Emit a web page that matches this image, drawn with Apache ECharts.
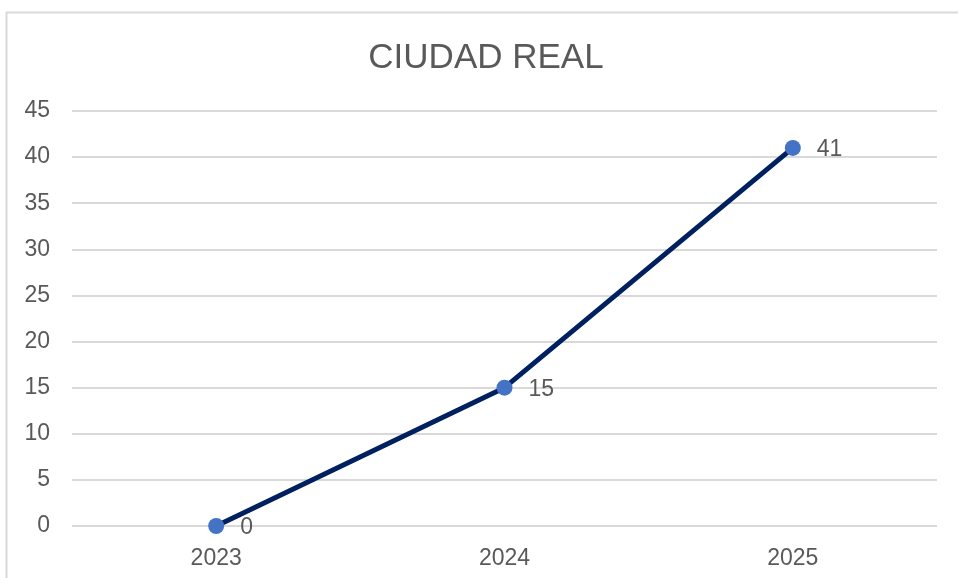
<!DOCTYPE html>
<html>
<head>
<meta charset="utf-8">
<script src="https://cdn.jsdelivr.net/npm/echarts@6/dist/echarts.min.js"></script>
<style>
  html, body { margin: 0; padding: 0; background: #fff; }
  #chart { width: 958px; height: 578px; }
</style>
</head>
<body>
<div id="chart"></div>
<script>
// Data
const years = ['2023', '2024', '2025'];
const values = [0, 15, 41];

const chart = echarts.init(document.getElementById('chart'));

const option = {
  animation: false,
  textStyle: { fontFamily: 'Liberation Sans, Arial, sans-serif' },
  graphic: [
    {
      type: 'rect',
      shape: { x: 6.5, y: 12.5, width: 960, height: 580 },
      style: { fill: 'none', stroke: '#d9d9d9', lineWidth: 2 },
      silent: true
    }
  ],
  title: {
    text: 'CIUDAD REAL',
    left: 481,
    textAlign: 'center',
    top: 36,
    textStyle: { color: '#595959', fontSize: 35, fontWeight: 'normal' }
  },
  grid: { left: 72, right: 21, top: 111, bottom: 52 },
  xAxis: {
    type: 'category',
    data: years,
    boundaryGap: true,
    axisLine: { show: false },
    axisTick: { show: false },
    axisLabel: { color: '#595959', fontSize: 23, margin: 21 }
  },
  yAxis: {
    type: 'value',
    min: 0,
    max: 45,
    interval: 5,
    axisLine: { show: false },
    axisTick: { show: false },
    axisLabel: { color: '#595959', fontSize: 23, margin: 22 },
    splitLine: { lineStyle: { color: '#d9d9d9', width: 2 } }
  },
  series: [
    {
      type: 'line',
      data: values,
      symbol: 'circle',
      symbolSize: 16,
      lineStyle: { color: '#002060', width: 5 },
      itemStyle: { color: '#4472c4' },
      label: {
        show: true,
        position: 'right',
        distance: 16,
        offset: [0, 2],
        color: '#595959',
        fontSize: 23
      }
    }
  ]
};

chart.setOption(option);

window.addEventListener('resize', () => {
  chart.resize();
});
</script>
</body>
</html>
